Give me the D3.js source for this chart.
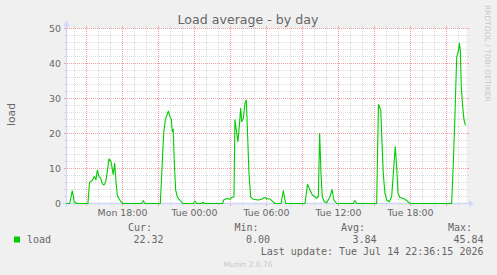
<!DOCTYPE html>
<html>
<head>
<meta charset="utf-8">
<script src="https://cdn.jsdelivr.net/npm/d3@7"></script>
<style>
  body { margin: 0; background: #f0f0f0; }
  svg { display: block; }
  text { font-family: "DejaVu Sans", sans-serif; fill: #666; }
  .mono { font-family: "DejaVu Sans Mono", monospace; font-size: 10px; }
</style>
</head>
<body>
<svg></svg>
<script>
// data: hours since Mon 00:00, load value
const loadHours = [
  13.33, 13.60, 13.72, 13.81, 13.90, 13.97, 14.17,
  15.12, 15.25, 15.48, 15.65, 15.79, 15.90, 16.04, 16.18, 16.32, 16.46, 16.60, 16.73, 16.87, 17.04, 17.23, 17.35, 17.46, 17.57, 17.73, 17.90, 18.02,
  19.58, 19.73, 19.87,
  21.15, 21.43, 21.57, 21.82, 21.96, 22.07, 22.15, 22.23, 22.33, 22.43, 22.57, 22.75, 22.90, 23.02,
  23.90, 24.04, 24.18, 24.60, 24.71, 24.82,
  26.35, 26.42, 26.68, 26.96, 27.15, 27.29, 27.37, 27.52, 27.62, 27.73, 27.85, 27.93, 28.07, 28.21, 28.32, 28.40, 28.54, 28.68, 28.90, 29.32, 29.60, 29.82, 30.02, 30.29, 30.48, 30.71,
  31.21, 31.40, 31.60,
  33.21, 33.42, 33.62, 33.82, 33.98, 34.18, 34.32, 34.43, 34.54, 34.65, 34.82, 35.02, 35.29, 35.46, 35.62, 35.85,
  37.23, 37.37, 37.52,
  39.18, 39.33, 39.52, 39.62, 39.73, 39.87, 40.02, 40.23, 40.43, 40.57, 40.73, 40.85, 40.96, 41.12, 41.35, 41.54, 41.73, 41.96,
  45.43, 45.57, 45.71, 45.85, 45.98, 46.07, 46.15, 46.23, 46.35, 46.46, 46.57
];
const loadValues = [
  0, 0, 2.0, 3.6, 2.2, 0.5, 0,
  0, 6.0, 6.6, 7.7, 6.8, 9.5, 7.7, 7.3, 5.6, 5.3, 6.2, 8.9, 12.8, 12.0, 8.3, 11.5, 6.0, 2.3, 1.2, 0.4, 0,
  0, 0.8, 0,
  0, 20.0, 23.9, 26.4, 24.8, 24.0, 20.5, 21.2, 10.5, 3.9, 1.8, 1.1, 0.5, 0,
  0, 0.7, 0, 0, 0.4, 0,
  0, 1.0, 1.4, 1.2, 1.8, 1.9, 23.9, 20.0, 17.7, 21.9, 27.2, 23.4, 24.3, 28.6, 29.6, 21.9, 8.6, 1.9, 1.2, 1.0, 1.2, 1.7, 1.4, 1.3, 0.7, 0,
  0, 3.6, 0,
  0, 5.5, 3.9, 2.4, 2.1, 1.5, 2.0, 20.0, 8.6, 1.9, 0.5, 0.2, 1.9, 4.0, 1.0, 0,
  0, 0.8, 0,
  0, 28.3, 26.7, 18.1, 8.6, 2.9, 1.0, 0.5, 1.9, 8.6, 16.3, 10.5, 2.9, 1.7, 1.5, 1.2, 0.7, 0,
  0, 11.5, 25.8, 41.9, 43.4, 45.8, 43.9, 33.4, 27.7, 23.9, 22.3
];
const yTicks = [0, 10, 20, 30, 40, 50];
const legendHeaders = ["Cur:", "Min:", "Avg:", "Max:"];
const legendValues = ["22.32", "0.00", "3.84", "45.84"];
const seriesName = "load";
const lastUpdate = "Last update: Tue Jul 14 22:36:15 2026";

const W = 497, H = 275;
const svg = d3.select("svg").attr("width", W).attr("height", H);

const day0 = new Date(2026, 6, 13);
const toDate = (h) => new Date(day0.getTime() + h * 3600e3);

//* scales
const x = d3.scaleTime()
  .domain([toDate(13 + 1 / 3), toDate(46 + 2 / 3)])
  .range([66.5, 466.5]);
const y = d3.scaleLinear().domain([0, 50]).range([203.5, 28.5]);

// canvas
svg.append("rect").attr("width", W).attr("height", H).attr("fill", "#f0f0f0");
svg.append("rect")
  .attr("x", 66.5).attr("y", 28.5)
  .attr("width", 400).attr("height", 175)
  .attr("fill", "#fff");

//* grid
const grid = svg.append("g").attr("shape-rendering", "crispEdges");
const minorCol = "#dcdcdc", majorCol = "#f0a0a0";

const hourTicks = x.ticks(d3.timeHour.every(1));
hourTicks.forEach((t) => {
  const major = t.getHours() % 3 === 0;
  const xx = Math.round(x(t) - 0.5) + 0.5;
  const c = major ? majorCol : minorCol;
  grid.append("line")
    .attr("x1", xx).attr("x2", xx).attr("y1", 28.5).attr("y2", 203.5)
    .attr("stroke", c).attr("stroke-dasharray", "1,1");
  grid.append("line")
    .attr("x1", xx).attr("x2", xx).attr("y1", 26).attr("y2", 28)
    .attr("stroke", c);
  grid.append("line")
    .attr("x1", xx).attr("x2", xx).attr("y1", 204).attr("y2", 206)
    .attr("stroke", c);
});

d3.range(2, 51, 2).forEach((v) => {
  const major = v % 10 === 0;
  const yy = y(v);
  const c = major ? majorCol : minorCol;
  grid.append("line")
    .attr("x1", 66.5).attr("x2", 466.5).attr("y1", yy).attr("y2", yy)
    .attr("stroke", c).attr("stroke-dasharray", "1,1");
  grid.append("line")
    .attr("x1", 64).attr("x2", 66).attr("y1", yy).attr("y2", yy)
    .attr("stroke", c);
  grid.append("line")
    .attr("x1", 467).attr("x2", 469).attr("y1", yy).attr("y2", yy)
    .attr("stroke", c);
});

//* axes lines + arrows
const axisCol = "#cfd6f8";
svg.append("line")
  .attr("x1", 63).attr("x2", 470).attr("y1", 203.5).attr("y2", 203.5)
  .attr("stroke", axisCol).attr("stroke-width", 1.3);
svg.append("line")
  .attr("x1", 66.5).attr("x2", 66.5).attr("y1", 207).attr("y2", 24)
  .attr("stroke", axisCol).attr("stroke-width", 1.3);
svg.append("path")
  .attr("d", "M469,200.5 L474,203.5 L469,206.5 Z")
  .attr("fill", axisCol);
svg.append("path")
  .attr("d", "M63.5,26.5 L66.5,20.5 L69.5,26.5 Z")
  .attr("fill", axisCol);

//* y tick labels
svg.selectAll("text.ytick")
  .data(yTicks)
  .enter()
  .append("text")
  .attr("class", "ytick")
  .attr("x", 61)
  .attr("y", (d) => y(d) + 3.4)
  .attr("text-anchor", "end")
  .style("font-size", "9.4px")
  .text((d) => d);

//* x tick labels
const fmt = d3.timeFormat("%a %H:%M");
svg.selectAll("text.xtick")
  .data(x.ticks(d3.timeHour.every(6)))
  .enter()
  .append("text")
  .attr("class", "xtick")
  .attr("x", (d) => x(d))
  .attr("y", 216)
  .attr("text-anchor", "middle")
  .style("font-size", "9.4px")
  .text((d) => fmt(d));

//* line
const lineGen = d3.line()
  .x((d) => x(toDate(d[0])))
  .y((d) => y(d[1]));
svg.append("path")
  .datum(d3.zip(loadHours, loadValues))
  .attr("d", lineGen)
  .attr("fill", "none")
  .attr("stroke", "#00cc00")
  .attr("stroke-width", 1.1)
  .attr("stroke-linejoin", "round");

//* titles
svg.append("text")
  .attr("x", 248).attr("y", 24)
  .attr("text-anchor", "middle")
  .style("font-size", "12.6px")
  .text("Load average - by day");

svg.append("text")
  .attr("transform", "translate(15,114.5) rotate(-90)")
  .attr("text-anchor", "middle")
  .style("font-size", "10.7px")
  .text(seriesName);

svg.append("text")
  .attr("transform", "translate(485,5) rotate(90)")
  .attr("text-anchor", "start")
  .style("font-size", "7.5px")
  .style("fill", "#c8c8c8")
  .text("RRDTOOL / TOBI OETIKER");

//* legend
const headX = [152, 258.5, 365, 472];
const valX = [163.5, 270, 376.5, 483.5];
svg.selectAll("text.lhead")
  .data(legendHeaders)
  .enter()
  .append("text")
  .attr("class", "lhead mono")
  .attr("x", (_, i) => headX[i])
  .attr("y", 231)
  .attr("text-anchor", "end")
  .text((d) => d);
svg.selectAll("text.lval")
  .data(legendValues)
  .enter()
  .append("text")
  .attr("class", "lval mono")
  .attr("x", (_, i) => valX[i])
  .attr("y", 242.5)
  .attr("text-anchor", "end")
  .text((d) => d);

svg.append("rect")
  .attr("x", 14).attr("y", 236.5)
  .attr("width", 6).attr("height", 6)
  .attr("fill", "#00cc00");
svg.append("text")
  .attr("class", "mono")
  .attr("x", 27).attr("y", 242.5)
  .text(seriesName);

svg.append("text")
  .attr("class", "mono")
  .attr("x", 483.5).attr("y", 254.5)
  .attr("text-anchor", "end")
  .text(lastUpdate);

svg.append("text")
  .attr("x", 248).attr("y", 267)
  .attr("text-anchor", "middle")
  .style("font-size", "7.5px")
  .style("fill", "#c8c8c8")
  .text("Munin 2.0.76");
</script>
</body>
</html>
